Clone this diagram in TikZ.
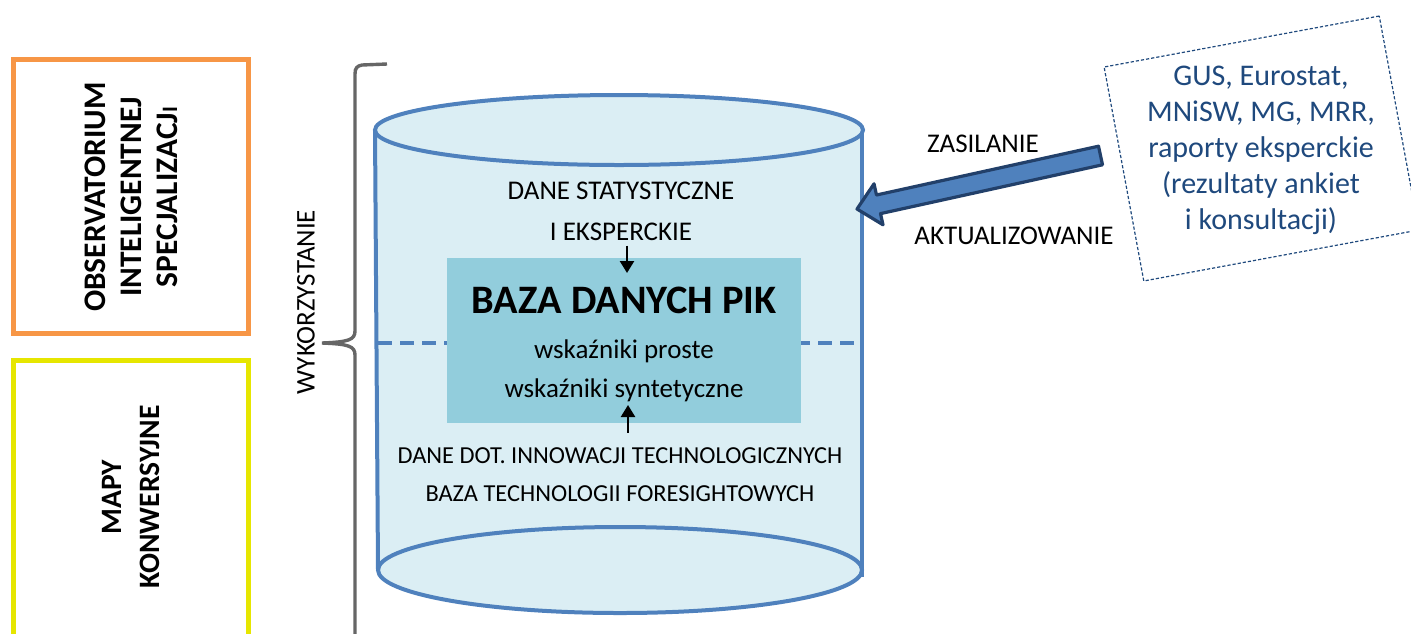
\documentclass[tikz,border=0pt]{standalone}
\usepackage{fontspec}
\setmainfont{Carlito}
\usetikzlibrary{arrows.meta}

\definecolor{cylfill}{HTML}{DBEEF4}
\definecolor{cylline}{HTML}{4F81BD}
\definecolor{corefill}{HTML}{92CDDC}
\definecolor{orangeframe}{HTML}{F79646}
\definecolor{yellowframe}{HTML}{E6E600}
\definecolor{bracegray}{HTML}{666666}
\definecolor{srcblue}{HTML}{1F497D}
\definecolor{arrowedge}{HTML}{22406A}

\begin{document}
\begin{tikzpicture}[
  x=0.5pt, y=-0.5pt,
  frame/.style={draw, line width=2.5pt, fill=white, inner sep=0pt},
  sidelabel/.style={rotate=90, align=center, inner sep=0pt,
    font=\bfseries\fontsize{15.7}{18}\selectfont},
  plain/.style={inner sep=0pt, anchor=base, font=\fontsize{13.5}{16}\selectfont},
  small/.style={inner sep=0pt, anchor=base, font=\fontsize{12.2}{15}\selectfont},
  cylstroke/.style={draw=cylline, line width=2pt},
  smallarrow/.style={line width=1.2pt, -{Triangle[length=6pt,width=7pt]}},
  feedarrow/.style={fill=cylline, draw=arrowedge, line width=1.6pt, line join=round},
  srcframe/.style={draw=srcblue, line width=0.6pt, dash pattern=on 1.6pt off 1pt,
    inner sep=0pt},
  srctext/.style={align=center, inner sep=0pt, anchor=base, text=srcblue,
    font=\fontsize{15}{18}\selectfont},
]
\useasboundingbox (0,0) rectangle (1411,633);
\clip (0,0) rectangle (1411,633);

% --- side panels -------------------------------------------------------
\node[frame, draw=orangeframe, minimum width=117.5pt, minimum height=137pt]
  (obsframe) at (131,196.5) {};
\node[sidelabel] (obs) at (131,197)
  {OBSERVATORIUM\\INTELIGENTNEJ\\SPECJALIZACJ{\fontsize{11}{18}\selectfont I}};

\node[frame, draw=yellowframe, minimum width=117.5pt, minimum height=170pt]
  (mapframe) at (131,530) {};
\node[sidelabel, font=\bfseries\fontsize{14.8}{19}\selectfont] (map) at (131,497)
  {MAPY\\KONWERSYJNE};

% --- brace with its label ---------------------------------------------
\draw[bracegray, line width=1.7pt]
  (387,64) -- (362,65) .. controls (357,66) and (355,68) .. (355,74)
  -- (355,331) .. controls (355,340) and (348,342) .. (322,343)
  .. controls (348,344) and (355,346) .. (355,355) -- (355,660);
\node[plain, anchor=center, rotate=90] (use) at (306,302) {WYKORZYSTANIE};

% --- database cylinder -------------------------------------------------
\fill[cylfill] (375,130) -- (378,570)
  arc[start angle=180, end angle=360, x radius=242, y radius=-43]
  -- (862,130) -- cycle;
\draw[cylstroke] (620,570) ellipse [x radius=242, y radius=43];
\draw[cylstroke] (375,130) -- (378,570);
\draw[cylstroke] (862,133) -- (862,577);
\draw[cylstroke, fill=cylfill] (619,130) ellipse [x radius=244, y radius=35];

% dashed mid line, partly hidden by the core box
\draw[cylline, line width=2pt, dash pattern=on 7pt off 4pt] (378,343) -- (860,343);

\node[fill=corefill, inner sep=0pt, minimum width=177pt, minimum height=82.5pt]
  (core) at (624,340.5) {};

% --- texts inside the cylinder -----------------------------------------
\node[plain] (stat) at (621,199) {DANE STATYSTYCZNE};
\node[plain] (eks) at (621,240) {I EKSPERCKIE};
\node[inner sep=0pt, anchor=base, font=\bfseries\fontsize{20.2}{24}\selectfont]
  (title) at (624,313) {BAZA DANYCH PIK};
\node[plain] (simple) at (624,358) {wskaźniki proste};
\node[plain] (synth) at (624,397) {wskaźniki syntetyczne};
\node[small] (tech) at (620,463) {DANE DOT. INNOWACJI TECHNOLOGICZNYCH};
\node[small] (fore) at (620,501) {BAZA TECHNOLOGII FORESIGHTOWYCH};

\coordinate (dtip) at (627,273);
\coordinate (utip) at (628,405);
\draw[smallarrow, shorten <=2.5pt] (eks.south -| dtip) -- (dtip);
\draw[smallarrow, shorten <=7pt] (tech.north -| utip) -- (utip);

% --- data sources and feed arrow ---------------------------------------
\node[srcframe, rotate=10.5, minimum width=139.9pt, minimum height=108.8pt]
  (srcbox) at (1261.5,148.5) {};
% a multi-line node's base is its last line
\node[srctext] (src) at (1261,229)
  {GUS, Eurostat,\\MNiSW, MG, MRR,\\raporty eksperckie\\(rezultaty ankiet\\i konsultacji)};

\draw[feedarrow] (1098.5,146.2) -- (876.5,195.0) -- (874,183.8) -- (857,209)
  -- (883,224.8) -- (880.5,213.6) -- (1102.5,164.8) -- cycle;

\node[plain] (feed) at (983,152) {ZASILANIE};
\node[plain] (upd) at (1014,244) {AKTUALIZOWANIE};
\end{tikzpicture}
\end{document}
